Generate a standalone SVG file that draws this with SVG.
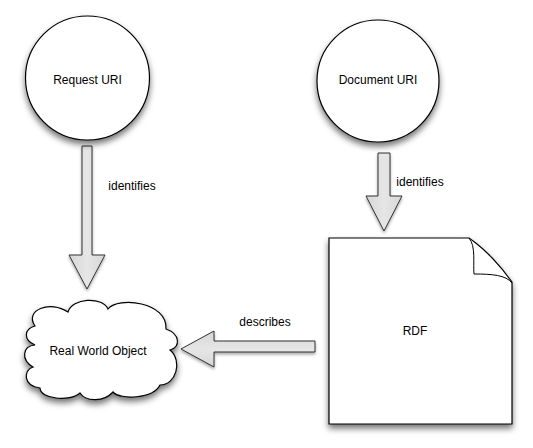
<svg xmlns="http://www.w3.org/2000/svg" width="533" height="448" viewBox="0 0 533 448">
<defs>
<filter id="sh" x="-20%" y="-20%" width="140%" height="150%">
<feDropShadow dx="0" dy="4" stdDeviation="3" flood-color="#000" flood-opacity="0.55"/>
</filter>
<filter id="sha" x="-30%" y="-30%" width="160%" height="160%">
<feDropShadow dx="0" dy="2" stdDeviation="1.5" flood-color="#000" flood-opacity="0.35"/>
</filter>
<linearGradient id="gv" x1="0" y1="0" x2="1" y2="0">
<stop offset="0" stop-color="#d6d6d6"/><stop offset="0.5" stop-color="#e6e6e6"/><stop offset="1" stop-color="#d6d6d6"/>
</linearGradient>
<linearGradient id="gh" x1="0" y1="0" x2="0" y2="1">
<stop offset="0" stop-color="#d6d6d6"/><stop offset="0.5" stop-color="#e6e6e6"/><stop offset="1" stop-color="#d6d6d6"/>
</linearGradient>
</defs>
<style>
.node{fill:#fff;stroke:#000;stroke-width:1.2;filter:url(#sh)}
.arr{stroke:#333;stroke-width:1;stroke-linejoin:miter;filter:url(#sha)}
text{font-family:"Liberation Sans",Arial,sans-serif;font-size:12px;fill:#000;text-anchor:middle;dominant-baseline:central}
.fold{fill:#fff;stroke:#000;stroke-width:1}
</style>
<rect width="533" height="448" fill="#fff"/>
<g id="connectors">
<g id="c1">
<polygon class="arr" fill="url(#gv)" points="82,146 92,146 92,255 105,255 87,289 69,255 82,255"/>
<text x="132" y="186">identifies</text>
</g>
<g id="c2">
<polygon class="arr" fill="url(#gv)" points="378,153 390,153 390,196 402,196 384,231 366,196 378,196"/>
<text x="420" y="182">identifies</text>
</g>
<g id="c3">
<polygon class="arr" fill="url(#gh)" points="315,341 315,352 214,352 214,367 181,349 214,331 214,341"/>
<text x="265" y="322">describes</text>
</g>
</g>
<g id="request-uri">
<circle class="node" cx="87.5" cy="78" r="62"/>
<text x="87.5" y="80">Request URI</text>
</g>
<g id="document-uri">
<circle class="node" cx="378" cy="81" r="61"/>
<text x="378" y="80">Document URI</text>
</g>
<g id="real-world-object">
<path class="node" d="M35,326 C24,310 50,300 68,312 C72,298 102,296 108,309 C118,296 168,302 166,329 C180,334 181,347 170,350 C183,361 176,385 160,385 C153,399 120,400 113,392 C104,402 86,402 80,393 C70,402 40,399 40,388 C23,386 23,370 33,367 C21,360 22,346 35,345 C23,340 24,329 35,326 Z"/>
<text x="98" y="351">Real World Object</text>
</g>
<g id="rdf">
<path class="node" d="M329,238 H469 Q492,254 512,282 V424 H329 Z"/>
<path class="fold" d="M469,238 C476,246 473,264 474,274 C492,274 506,275 512,283"/>
<text x="415" y="331">RDF</text>
</g>
</svg>
